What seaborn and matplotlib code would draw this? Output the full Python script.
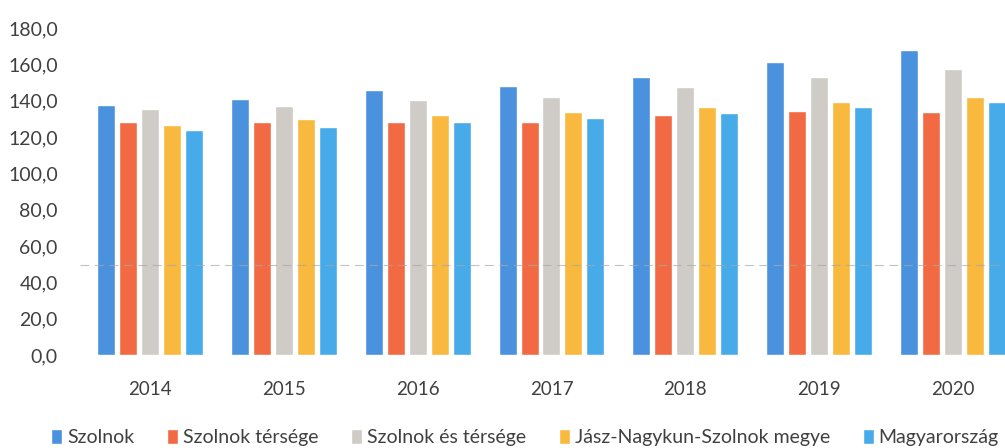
import matplotlib
matplotlib.use("Agg")
import matplotlib.pyplot as plt
import pandas as pd
import seaborn as sns
from matplotlib.ticker import FuncFormatter

# Values
years = ["2014", "2015", "2016", "2017", "2018", "2019", "2020"]
szolnok = [137.7, 141.0, 146.0, 148.0, 153.0, 161.4, 168.0]
szolnok_tersege = [128.4, 128.0, 128.0, 128.0, 132.0, 134.4, 134.0]
szolnok_es_tersege = [135.5, 137.0, 140.5, 142.0, 147.7, 153.0, 157.6]
megye = [126.7, 130.0, 132.0, 134.0, 136.6, 139.4, 142.0]
magyarorszag = [124.0, 125.6, 128.4, 130.6, 133.0, 136.6, 139.0]

series = ["Szolnok", "Szolnok térsége", "Szolnok és térsége",
          "Jász-Nagykun-Szolnok megye", "Magyarország"]
colors = ["#4a92de", "#f26a43", "#cfcbc6", "#f8b93e", "#47abea"]

rows = []
for name, vals in zip(series, [szolnok, szolnok_tersege, szolnok_es_tersege, megye, magyarorszag]):
    for y, v in zip(years, vals):
        rows.append({"year": y, "series": name, "value": v})
df = pd.DataFrame(rows)

sns.set_style("white")
plt.rcParams["font.family"] = ["Lato", "DejaVu Sans"]

fig = plt.figure(figsize=(10.05, 4.48), dpi=100)
ax = fig.add_axes([80 / 1005, 1 - 355 / 448, 1 - 80 / 1005, (355 - 28) / 448])

sns.barplot(data=df, x="year", y="value", hue="series", hue_order=series,
            palette=colors, width=0.82, gap=0.18, saturation=1, ax=ax)

# faint dashed line seen in the scan
ax.axhline(49.5, color="#a8a8a8", lw=0.8, ls=(0, (8, 5)), alpha=0.7, zorder=5)

ax.set_ylim(0, 180)
ax.set_xlim(-0.523, 6.389)
ax.set_yticks(range(0, 181, 20))
ax.yaxis.set_major_formatter(FuncFormatter(lambda v, p: f"{v:.1f}".replace(".", ",")))
ax.tick_params(axis="y", labelsize=14, colors="#404040", length=0, pad=16)
ax.tick_params(axis="x", labelsize=13.5, colors="#404040", length=0, pad=19)
ax.set_xlabel("")
ax.set_ylabel("")
for s in ax.spines.values():
    s.set_visible(False)

ax.legend(loc="center", bbox_to_anchor=(0.481, -0.252), ncol=5, frameon=False,
          fontsize=14, labelcolor="#404040", handlelength=0.55, handleheight=0.8,
          handletextpad=0.25, columnspacing=1.7)

fig.savefig("out.png", dpi=100)
